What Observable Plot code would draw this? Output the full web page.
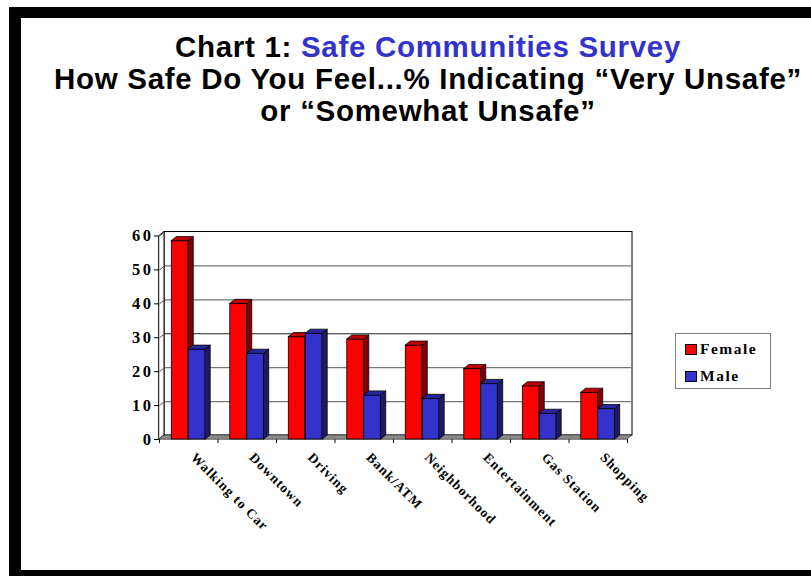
<!DOCTYPE html>
<html>
<head>
<meta charset="utf-8">
<script src="https://cdn.jsdelivr.net/npm/d3@7"></script>
<script src="https://cdn.jsdelivr.net/npm/@observablehq/plot@0.6"></script>
<style>
  html, body { margin: 0; padding: 0; background: white; }
  #wrap { position: relative; width: 811px; height: 576px; overflow: hidden; background: white; }
  #chart { position: absolute; left: 0; top: 0; }
  #chart svg { background: transparent; }
  .bar { position: absolute; background: black; }
  #title { position: absolute; left: 0px; width: 856px; top: 31px; text-align: center;
    font-family: "Liberation Sans", Arial, sans-serif; font-weight: bold; font-size: 29.5px; line-height: 32px; letter-spacing: 0.7px; color: black; white-space: nowrap; }
  #title .blue { color: #3333cc; }
  #legend { position: absolute; left: 675px; top: 333px; width: 96px; height: 56px; border: 1px solid #808080;
    box-sizing: border-box; font-family: "Liberation Serif", "Times New Roman", serif; font-weight: bold; font-size: 15.5px; letter-spacing: 1.5px; }
  .item { position: absolute; left: 9px; height: 18px; display: flex; align-items: center; }
  .sw { width: 12px; height: 11px; border: 1px solid black; box-sizing: border-box; margin-right: 3px; }
  #chart text { font-family: "Liberation Serif", "Times New Roman", serif; font-weight: bold; }
  #chart g[aria-label^="y-axis"] text { font-size: 16.5px; letter-spacing: 2.5px; }
  #chart g[aria-label="text"] text { letter-spacing: 1px; }
</style>
</head>
<body>
<div id="wrap">
  <div id="chart"></div>
  <div class="bar" style="left:9px;top:7px;width:802px;height:11px;"></div>
  <div class="bar" style="left:9px;top:7px;width:12px;height:569px;"></div>
  <div class="bar" style="left:9px;top:570px;width:802px;height:6px;"></div>
  <div id="title">Chart 1: <span class="blue">Safe Communities Survey</span><br>How Safe Do You Feel...% Indicating “Very Unsafe”<br>or “Somewhat Unsafe”</div>
  <div id="legend"></div>
</div>
<script>
// ---- data ----
const categories = ["Walking to Car", "Downtown", "Driving", "Bank/ATM", "Neighborhood", "Entertainment", "Gas Station", "Shopping"];
const female = [58.5, 40, 30.2, 29.5, 27.7, 20.8, 15.7, 13.8];
const male = [26.5, 25.3, 31.2, 13, 12, 16.4, 7.6, 9];
const seriesNames = ["Female", "Male"];
const seriesColors = ["#ff0000", "#3333cc"];
const sideColors = ["#800000", "#1c1c66"];
const topColors = ["#c00000", "#2626a0"];
const yTicks = [0, 10, 20, 30, 40, 50, 60];

// ---- geometry (in scale units) ----
const n = categories.length;
const yMax = 60;
const pxPerX = (627 - 159) / n;
const pxPerY = (439 - 235.5) / yMax;
const DXU = 5 / pxPerX;   // depth offset in x units
const DYU = 4 / pxPerY;   // depth offset in y units
const barW = 0.29;

function rowsFor(s) {
  const vals = s === 0 ? female : male;
  return categories.map((c, i) => {
    const x1 = i + 0.5 - (s === 0 ? barW : 0);
    return { id: c + s, cat: c, value: vals[i], x1, x2: x1 + barW };
  });
}
function sidePts(rows) {
  return rows.flatMap(r => [
    { id: r.id, x: r.x2, y1: 0, y2: r.value },
    { id: r.id, x: r.x2 + DXU, y1: DYU, y2: r.value + DYU }
  ]);
}
function topPts(rows) {
  return rows.flatMap(r => [
    { id: r.id, y: r.value, x1: r.x1, x2: r.x2 },
    { id: r.id, y: r.value + DYU, x1: r.x1 + DXU, x2: r.x2 + DXU }
  ]);
}
function barMarks(s) {
  const rows = rowsFor(s);
  return [
    Plot.rect(rows, { x1: "x1", x2: "x2", y1: 0, y2: "value", fill: seriesColors[s], stroke: "black", strokeWidth: 0.8 }),
    Plot.areaY(sidePts(rows), { x: "x", y1: "y1", y2: "y2", z: "id", fill: sideColors[s], stroke: "black", strokeWidth: 0.8 }),
    Plot.areaX(topPts(rows), { y: "y", x1: "x1", x2: "x2", z: "id", fill: topColors[s], stroke: "black", strokeWidth: 0.8 })
  ];
}

const plot = Plot.plot({
  width: 811,
  height: 576,
  marginLeft: 159,
  marginRight: 184,
  marginTop: 235.5,
  marginBottom: 137,
  x: { domain: [0, n], ticks: d3.range(n + 1), tickFormat: () => "", tickSize: 4, label: null },
  y: { domain: [0, yMax], ticks: yTicks, tickSize: 5, tickPadding: 1, label: null },
  style: { background: "transparent", color: "black", fontSize: "13px" },
  marks: [
    // back wall
    Plot.rect([0], { x1: DXU, x2: n + DXU, y1: DYU, y2: yMax + DYU, fill: "white", stroke: "black", strokeWidth: 1 }),
    // gridlines on back wall
    Plot.ruleY(yTicks.filter(v => v > 0 && v < yMax), { y: d => d + DYU, x1: DXU, x2: n + DXU, stroke: d => d === 30 ? "#222" : "#777", strokeWidth: 1.2 }),
    // left wall
    Plot.areaY([{ x: 0, y1: 0, y2: yMax }, { x: DXU, y1: DYU, y2: yMax + DYU }], { x: "x", y1: "y1", y2: "y2", fill: "white", stroke: "black", strokeWidth: 1 }),
    Plot.link(yTicks, { x1: 0, y1: d => d, x2: DXU, y2: d => d + DYU, stroke: "#555" }),
    // floor
    Plot.areaX([{ y: 0, x1: 0, x2: n }, { y: DYU, x1: DXU, x2: n + DXU }], { y: "y", x1: "x1", x2: "x2", fill: "#8c8c8c", stroke: "#333", strokeWidth: 0.8 }),
    // bars
    ...barMarks(0),
    ...barMarks(1),
    // category labels
    Plot.text(categories, { x: (d, i) => i + 0.5, y: 0, text: d => d, rotate: 45, textAnchor: "start", lineAnchor: "top", dx: 8, dy: 12, fontSize: 13.5, fill: "black" })
  ]
});
document.getElementById("chart").appendChild(plot);

// legend
const legend = document.getElementById("legend");
seriesNames.forEach((name, s) => {
  const item = document.createElement("div");
  item.className = "item";
  item.style.top = (6 + s * 27) + "px";
  const sw = document.createElement("div");
  sw.className = "sw";
  sw.style.background = seriesColors[s];
  const t = document.createElement("span");
  t.textContent = name;
  item.appendChild(sw);
  item.appendChild(t);
  legend.appendChild(item);
});
</script>
</body>
</html>
